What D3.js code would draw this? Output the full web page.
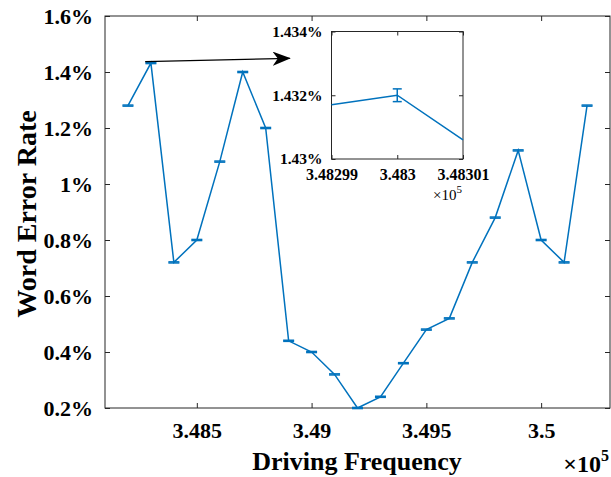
<!DOCTYPE html>
<html>
<head>
<meta charset="utf-8">
<script src="https://cdn.jsdelivr.net/npm/d3@7"></script>
<style>
  html, body { margin: 0; padding: 0; background: #fff; }
  svg { display: block; }
  text { font-family: "Liberation Serif", "Times New Roman", serif; fill: #000; }
</style>
</head>
<body>
<svg id="chart" width="611" height="477"></svg>
<script>
// Driving frequency sweep (Hz) and measured word error rate (%)
const frequency = [348200, 348300, 348400, 348500, 348600, 348700, 348800, 348900, 349000, 349100,
                   349200, 349300, 349400, 349500, 349600, 349700, 349800, 349900, 350000, 350100, 350200];
const errorRate = [1.28, 1.432, 0.72, 0.80, 1.08, 1.40, 1.20, 0.44, 0.40, 0.32,
                   0.20, 0.24, 0.36, 0.48, 0.52, 0.72, 0.88, 1.12, 0.80, 0.72, 1.28];
const errorSpread = [0.0002, 0.0002, 0.0002, 0.0002, 0.0002, 0.0002, 0.0002, 0.0002, 0.0002, 0.0002,
                     0.0002, 0.0002, 0.0002, 0.0002, 0.0002, 0.0002, 0.0002, 0.0002, 0.0002, 0.0002, 0.0002];

// Main axes ticks
const xTicks = [348500, 349000, 349500, 350000];
const xTickLabels = ["3.485", "3.49", "3.495", "3.5"];
const yTicks = [0.2, 0.4, 0.6, 0.8, 1.0, 1.2, 1.4, 1.6];
const yTickLabels = ["0.2%", "0.4%", "0.6%", "0.8%", "1%", "1.2%", "1.4%", "1.6%"];

// Magnified view around the 348.3 kHz peak
const insetFrequency = [348299, 348300, 348301];
const insetRate = [1.4317, 1.432, 1.4306];
const insetSpread = [null, 0.0002, null];
const insetXTicks = [348299, 348300, 348301];
const insetXTickLabels = ["3.48299", "3.483", "3.48301"];
const insetYTicks = [1.430, 1.432, 1.434];
const insetYTickLabels = ["1.43%", "1.432%", "1.434%"];

// Pointer from the peak to the magnified view (data coordinates)
const pointerFrom = [348275, 1.437];
const pointerTo = [348905, 1.449];

const lineColor = "#0072BD";
const axisColor = "#262626";

const svg = d3.select("#chart");

// ---------- main plot ----------
const box = { left: 105, right: 610, top: 16, bottom: 408 };
const x = d3.scaleLinear().domain([348100, 350300]).range([box.left, box.right]);
const y = d3.scaleLinear().domain([0.2, 1.6]).range([box.bottom, box.top]);

function styleAxis(g) {
  g.select(".domain").remove();
  g.selectAll(".tick line").attr("stroke", axisColor).attr("stroke-width", 1);
}

svg.append("g")
  .attr("transform", `translate(0,${box.bottom})`)
  .call(d3.axisBottom(x).tickValues(xTicks).tickFormat((d, i) => xTickLabels[i])
        .tickSize(-5).tickPadding(14))
  .call(styleAxis)
  .call(g => g.selectAll(".tick text")
     .style("font-family", "Liberation Serif").style("font-weight", "bold")
     .style("font-size", "22px").attr("dy", "0.71em"));

svg.append("g")
  .attr("transform", `translate(0,${box.top})`)
  .call(d3.axisTop(x).tickValues(xTicks).tickFormat("").tickSize(-5))
  .call(styleAxis);

svg.append("g")
  .attr("transform", `translate(${box.left},0)`)
  .call(d3.axisLeft(y).tickValues(yTicks).tickFormat((d, i) => yTickLabels[i])
        .tickSize(-5).tickPadding(12))
  .call(styleAxis)
  .call(g => g.selectAll(".tick text")
     .style("font-family", "Liberation Serif").style("font-weight", "bold")
     .style("font-size", "22px"));

svg.append("g")
  .attr("transform", `translate(${box.right},0)`)
  .call(d3.axisRight(y).tickValues(yTicks).tickFormat("").tickSize(-5))
  .call(styleAxis);

svg.append("rect")
  .attr("x", box.left).attr("y", box.top)
  .attr("width", box.right - box.left).attr("height", box.bottom - box.top)
  .attr("fill", "none").attr("stroke", axisColor).attr("stroke-width", 1);

const points = frequency.map((f, i) => ({ f, r: errorRate[i], e: errorSpread[i] }));

svg.append("path")
  .datum(points)
  .attr("fill", "none").attr("stroke", lineColor).attr("stroke-width", 1.5)
  .attr("d", d3.line().x(d => x(d.f)).y(d => y(d.r)));

const capHalf = 5.5;
const bars = svg.append("g").attr("stroke", lineColor).attr("stroke-width", 1.5);
points.forEach(d => {
  const yt = y(d.r + d.e), yb = y(d.r - d.e), xc = x(d.f);
  bars.append("line").attr("x1", xc).attr("x2", xc).attr("y1", yt).attr("y2", yb);
  bars.append("line").attr("x1", xc - capHalf).attr("x2", xc + capHalf).attr("y1", yt - 0.5).attr("y2", yt - 0.5);
  bars.append("line").attr("x1", xc - capHalf).attr("x2", xc + capHalf).attr("y1", yb + 0.5).attr("y2", yb + 0.5);
});

// axis titles
svg.append("text")
  .attr("x", 357).attr("y", 470)
  .attr("text-anchor", "middle")
  .style("font-weight", "bold").style("font-size", "26px")
  .text("Driving Frequency");

svg.append("text")
  .attr("transform", `translate(36,${(box.top + box.bottom) / 2 + 2}) rotate(-90)`)
  .attr("text-anchor", "middle")
  .style("font-weight", "bold").style("font-size", "28px")
  .text("Word Error Rate");

const expMain = svg.append("text")
  .attr("x", 609).attr("y", 472).attr("text-anchor", "end")
  .style("font-weight", "bold").style("font-size", "24px");
expMain.append("tspan").text("\u00d710");
expMain.append("tspan").attr("dy", -11).style("font-size", "16px").text("5");

// pointer arrow
const defs = svg.append("defs");
defs.append("marker")
  .attr("id", "head").attr("viewBox", "0 0 18 14")
  .attr("refX", 17).attr("refY", 7)
  .attr("markerWidth", 18).attr("markerHeight", 14)
  .attr("markerUnits", "userSpaceOnUse").attr("orient", "auto")
  .append("path").attr("d", "M0,0 L18,7 L0,14 L5,7 Z").attr("fill", "#000");

svg.append("line")
  .attr("x1", x(pointerFrom[0])).attr("y1", y(pointerFrom[1]))
  .attr("x2", x(pointerTo[0])).attr("y2", y(pointerTo[1]))
  .attr("stroke", "#000").attr("stroke-width", 1.3)
  .attr("marker-end", "url(#head)");

// ---------- magnified view ----------
const ib = { left: 331.5, right: 463, top: 31.5, bottom: 159 };
const ix = d3.scaleLinear().domain([348299, 348301]).range([ib.left, ib.right]);
const iy = d3.scaleLinear().domain([1.430, 1.434]).range([ib.bottom, ib.top]);

svg.append("rect")
  .attr("x", ib.left).attr("y", ib.top)
  .attr("width", ib.right - ib.left).attr("height", ib.bottom - ib.top)
  .attr("fill", "#fff").attr("stroke", "none");

svg.append("g")
  .attr("transform", `translate(0,${ib.bottom})`)
  .call(d3.axisBottom(ix).tickValues(insetXTicks).tickFormat((d, i) => insetXTickLabels[i])
        .tickSize(-4).tickPadding(10))
  .call(styleAxis)
  .call(g => g.selectAll(".tick text")
     .style("font-family", "Liberation Serif").style("font-weight", "bold")
     .style("font-size", "16px").attr("dy", "0.71em"));

svg.append("g")
  .attr("transform", `translate(0,${ib.top})`)
  .call(d3.axisTop(ix).tickValues(insetXTicks).tickFormat("").tickSize(-4))
  .call(styleAxis);

svg.append("g")
  .attr("transform", `translate(${ib.left},0)`)
  .call(d3.axisLeft(iy).tickValues(insetYTicks).tickFormat((d, i) => insetYTickLabels[i])
        .tickSize(-4).tickPadding(9))
  .call(styleAxis)
  .call(g => g.selectAll(".tick text")
     .style("font-family", "Liberation Serif").style("font-weight", "bold")
     .style("font-size", "15.5px"));

svg.append("g")
  .attr("transform", `translate(${ib.right},0)`)
  .call(d3.axisRight(iy).tickValues(insetYTicks).tickFormat("").tickSize(-4))
  .call(styleAxis);

svg.append("rect")
  .attr("x", ib.left).attr("y", ib.top)
  .attr("width", ib.right - ib.left).attr("height", ib.bottom - ib.top)
  .attr("fill", "none").attr("stroke", axisColor).attr("stroke-width", 1);

const insetPoints = insetFrequency.map((f, i) => ({ f, r: insetRate[i], e: insetSpread[i] }));

svg.append("path")
  .datum(insetPoints)
  .attr("fill", "none").attr("stroke", lineColor).attr("stroke-width", 1.5)
  .attr("d", d3.line().x(d => ix(d.f)).y(d => iy(d.r)));

const ibars = svg.append("g").attr("stroke", lineColor).attr("stroke-width", 1.5);
insetPoints.filter(d => d.e !== null).forEach(d => {
  const yt = iy(d.r + d.e), yb = iy(d.r - d.e), xc = ix(d.f);
  ibars.append("line").attr("x1", xc).attr("x2", xc).attr("y1", yt).attr("y2", yb);
  ibars.append("line").attr("x1", xc - 4.5).attr("x2", xc + 4.5).attr("y1", yt).attr("y2", yt);
  ibars.append("line").attr("x1", xc - 4.5).attr("x2", xc + 4.5).attr("y1", yb).attr("y2", yb);
});

const expInset = svg.append("text")
  .attr("x", 462).attr("y", 200).attr("text-anchor", "end")
  .style("font-size", "15px");
expInset.append("tspan").text("\u00d710");
expInset.append("tspan").attr("dy", -7).style("font-size", "11px").text("5");
</script>
</body>
</html>
